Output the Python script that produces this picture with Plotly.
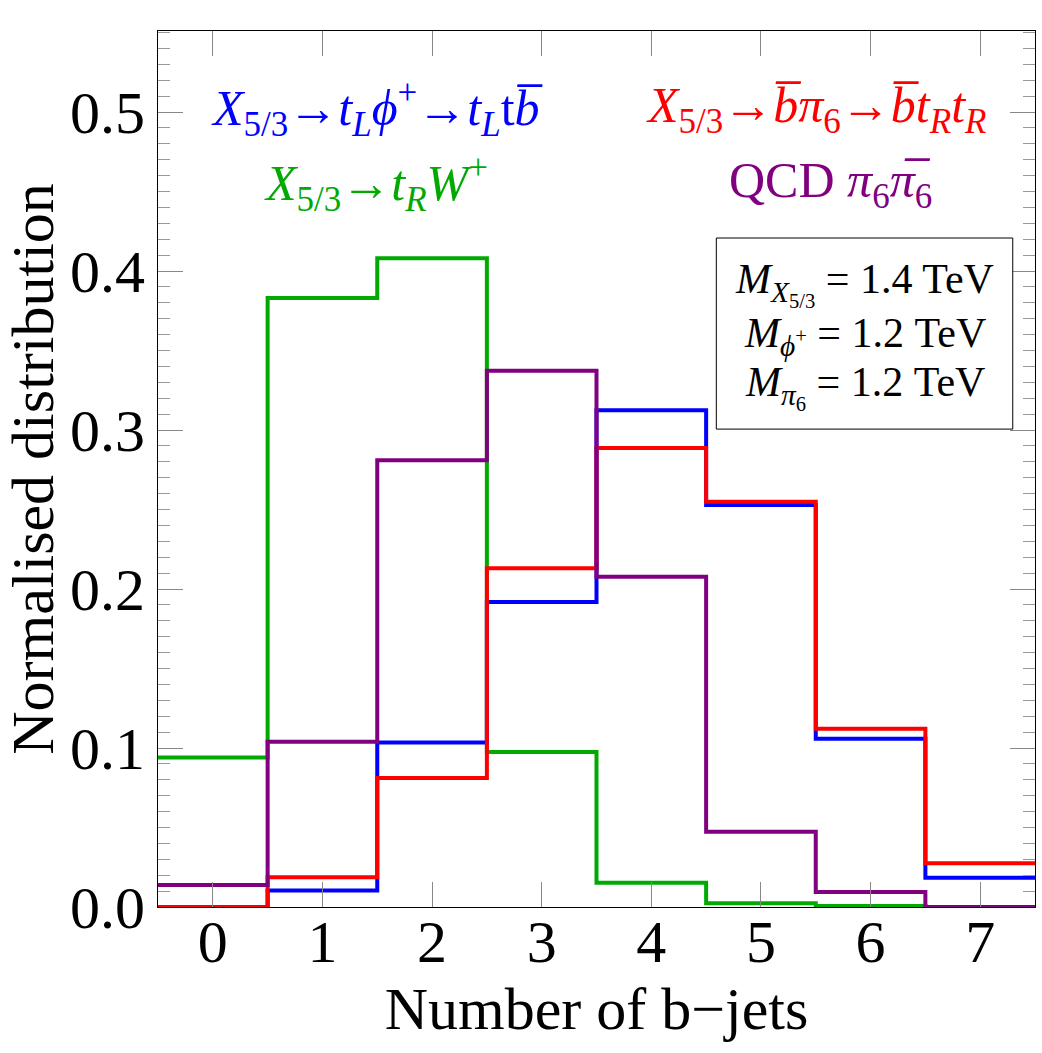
import numpy as np
import plotly.graph_objects as go

# ---- data ----
nbjets = [0, 1, 2, 3, 4, 5, 6, 7]
green_tRW = [0.094, 0.383, 0.408, 0.0975, 0.0153, 0.0023, 0.0006, 0.0]
blue_phi = [0.0, 0.0103, 0.1034, 0.1918, 0.3124, 0.2528, 0.1059, 0.0184]
red_pi6 = [0.0, 0.0187, 0.0811, 0.213, 0.2887, 0.2549, 0.1121, 0.0275]
purple_qcd = [0.0138, 0.104, 0.281, 0.3373, 0.2077, 0.0474, 0.0094, 0.0]
ytick_vals = [0.0, 0.1, 0.2, 0.3, 0.4, 0.5]
ytick_text = ["0.0", "0.1", "0.2", "0.3", "0.4", "0.5"]

FONT = "Liberation Serif"

def step_xy(cats, vals):
    c = np.asarray(cats, dtype=float)
    edges = np.concatenate([c - 0.5, [c[-1] + 0.5]])
    y = list(vals) + [vals[-1]]
    return edges, y

fig = go.Figure()
for vals, col in [(green_tRW, "rgb(0,170,0)"), (blue_phi, "rgb(0,0,255)"),
                  (red_pi6, "rgb(255,0,0)"), (purple_qcd, "rgb(128,0,128)")]:
    ex, ey = step_xy(nbjets, vals)
    fig.add_trace(go.Scatter(x=ex, y=ey, mode="lines", line=dict(color=col, width=4, shape="hv"),
                             showlegend=False, hoverinfo="skip", cliponaxis=True))

# parameter box
fig.add_shape(type="rect", xref="x", yref="y", x0=4.593, x1=7.297, y0=0.3006, y1=0.4208,
              line=dict(color="black", width=1), fillcolor="white", layer="above")

BBAR = "b\u0305"
PIBAR = "\u03c0\u0305"
ann = [
    ("<i>X</i><sub>5/3</sub>→<i>t</i><sub><i>L</i></sub><i>ϕ</i><sup>+</sup>→<i>t</i><sub><i>L</i></sub>t<i>" + BBAR + "</i>",
     1.50, 0.502, "rgb(0,0,255)", 50),
    ("<i>X</i><sub>5/3</sub>→<i>t</i><sub><i>R</i></sub><i>W</i><sup>+</sup>",
     1.49, 0.455, "rgb(0,170,0)", 50),
    ("<i>X</i><sub>5/3</sub>→<i>" + BBAR + "π</i><sub>6</sub>→<i>" + BBAR + "t</i><sub><i>R</i></sub><i>t</i><sub><i>R</i></sub>",
     5.50, 0.502, "rgb(255,0,0)", 50),
    ("QCD <i>π</i><sub>6</sub><i>" + PIBAR + "</i><sub>6</sub>",
     5.63, 0.455, "rgb(128,0,128)", 50),
    ("<i>M</i><sub><i>X</i><sub>5/3</sub></sub> = 1.4 TeV", 5.945, 0.392, "black", 42),
    ("<i>M</i><sub><i>ϕ</i><sup>+</sup></sub> = 1.2 TeV", 5.945, 0.359, "black", 42),
    ("<i>M</i><sub><i>π</i><sub>6</sub></sub> = 1.2 TeV", 5.945, 0.327, "black", 42),
]
for t, x, y, c, s in ann:
    fig.add_annotation(text=t, x=x, y=y, xref="x", yref="y", showarrow=False,
                       font=dict(family=FONT, size=s, color=c), xanchor="center", yanchor="middle")

fig.update_layout(
    width=1042, height=1053,
    margin=dict(l=158, r=7, t=31, b=146),
    paper_bgcolor="white", plot_bgcolor="white",
    font=dict(family=FONT, size=60, color="black"),
)
fig.update_xaxes(
    range=[-0.5, 7.5], tickvals=nbjets, ticktext=[str(v) for v in nbjets],
    ticks="inside", ticklen=25, tickcolor="#888888", tickwidth=1,
    showline=True, linecolor="black", linewidth=1, mirror="ticks",
    showgrid=False, zeroline=False,
    ticklabelstandoff=-18,
    tickfont=dict(family=FONT, size=60),
    title=dict(text="Number of b−jets", font=dict(family=FONT, size=60), standoff=12),
)
fig.update_yaxes(
    range=[0, 0.551], tickvals=ytick_vals, ticktext=ytick_text,
    ticks="inside", ticklen=25, tickcolor="#888888", tickwidth=1,
    minor=dict(dtick=0.01, tick0=0, ticks="inside", ticklen=12, tickcolor="#999999", tickwidth=1, showgrid=False),
    showline=True, linecolor="black", linewidth=1, mirror="ticks",
    showgrid=False, zeroline=False,
    tickfont=dict(family=FONT, size=60),
    title=dict(text="Normalised distribution", font=dict(family=FONT, size=60), standoff=8),
)

fig.write_html("out.html")
